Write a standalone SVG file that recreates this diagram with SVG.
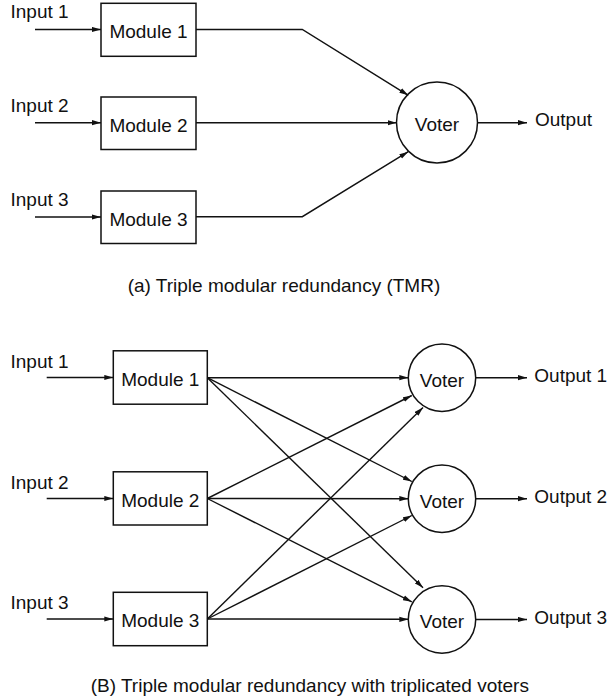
<svg xmlns="http://www.w3.org/2000/svg" width="610" height="699" viewBox="0 0 610 699">
<style>
text{font-family:"Liberation Sans",Arial,Helvetica,sans-serif;font-size:19px;fill:#111}
.box{fill:#fff;stroke:#111;stroke-width:1.5}
.c{text-anchor:middle}
.ln{fill:none;stroke:#111;stroke-width:1.4}
</style>
<defs>
<marker id="ah" markerUnits="userSpaceOnUse" markerWidth="9" markerHeight="6" viewBox="0 0 9 6" refX="9" refY="3" orient="auto">
<path d="M0,0.4 L9,3 L0,5.6 z" fill="#111"/>
</marker>
</defs>
<rect width="610" height="699" fill="#fff"/>

<!-- Part (a) -->
<g id="a-input1"><text x="10.5" y="18.3">Input 1</text></g>
<g id="a-input2"><text x="10.5" y="111.7">Input 2</text></g>
<g id="a-input3"><text x="10.5" y="205.7">Input 3</text></g>
<g id="a-module1"><rect class="box" x="101" y="3.3" width="95" height="53"/><text class="c" x="148.5" y="37.7">Module 1</text></g>
<g id="a-module2"><rect class="box" x="101" y="97" width="95" height="52.5"/><text class="c" x="148.5" y="131.5">Module 2</text></g>
<g id="a-module3"><rect class="box" x="101" y="191" width="95" height="52.5"/><text class="c" x="148.5" y="225.5">Module 3</text></g>
<g id="a-voter"><circle class="box" cx="437" cy="122.5" r="40.5"/><text class="c" x="437" cy="0" y="130.5">Voter</text></g>
<g id="a-output"><text x="535" y="126">Output</text></g>
<g id="a-caption"><text x="127.7" y="291.7">(a)  Triple modular redundancy (TMR)</text></g>

<g id="a-connectors">
<line class="ln" x1="35" y1="29.5" x2="101" y2="29.5" marker-end="url(#ah)"/>
<line class="ln" x1="35" y1="122.7" x2="101" y2="122.7" marker-end="url(#ah)"/>
<line class="ln" x1="35" y1="217" x2="101" y2="217" marker-end="url(#ah)"/>
<polyline class="ln" points="196,29.5 302.3,29.5 408.3,95.3" marker-end="url(#ah)"/>
<line class="ln" x1="196" y1="122.7" x2="396.5" y2="122.7" marker-end="url(#ah)"/>
<polyline class="ln" points="196,216.7 302.3,216.7 408.3,151.7" marker-end="url(#ah)"/>
<line class="ln" x1="477.5" y1="122.7" x2="527" y2="122.7" marker-end="url(#ah)"/>
</g>

<!-- Part (B) -->
<g id="b-input1"><text x="10.5" y="368.3">Input 1</text></g>
<g id="b-input2"><text x="10.5" y="488.5">Input 2</text></g>
<g id="b-input3"><text x="10.5" y="608.7">Input 3</text></g>
<g id="b-module1"><rect class="box" x="113.3" y="350.8" width="94" height="53.4"/><text class="c" x="160.3" y="385.7">Module 1</text></g>
<g id="b-module2"><rect class="box" x="113.3" y="471.8" width="94" height="53.2"/><text class="c" x="160.3" y="506.5">Module 2</text></g>
<g id="b-module3"><rect class="box" x="113.3" y="592.3" width="94" height="53.4"/><text class="c" x="160.3" y="627">Module 3</text></g>
<g id="b-voter1"><circle class="box" cx="442" cy="377.7" r="33.7"/><text class="c" x="442" y="386.5">Voter</text></g>
<g id="b-voter2"><circle class="box" cx="442" cy="498.7" r="33.7"/><text class="c" x="442" y="507.5">Voter</text></g>
<g id="b-voter3"><circle class="box" cx="442" cy="619.5" r="33.7"/><text class="c" x="442" y="628.3">Voter</text></g>
<g id="b-output1"><text x="534.3" y="382">Output 1</text></g>
<g id="b-output2"><text x="534.3" y="503.2">Output 2</text></g>
<g id="b-output3"><text x="534.3" y="623.8">Output 3</text></g>
<g id="b-caption"><text x="90.7" y="692.3">(B)  Triple modular redundancy with triplicated voters</text></g>

<g id="b-connectors">
<line class="ln" x1="46.7" y1="377.5" x2="113.3" y2="377.5" marker-end="url(#ah)"/>
<line class="ln" x1="46.7" y1="498.5" x2="113.3" y2="498.5" marker-end="url(#ah)"/>
<line class="ln" x1="46.7" y1="619" x2="113.3" y2="619" marker-end="url(#ah)"/>

<line class="ln" x1="207.3" y1="377.7" x2="408.3" y2="377.7" marker-end="url(#ah)"/>
<line class="ln" x1="207.3" y1="377.7" x2="411.8" y2="481.5" marker-end="url(#ah)"/>
<line class="ln" x1="207.3" y1="377.7" x2="423" y2="587.8" marker-end="url(#ah)"/>

<line class="ln" x1="207.3" y1="498.5" x2="411.8" y2="395.5" marker-end="url(#ah)"/>
<line class="ln" x1="207.3" y1="498.5" x2="408.3" y2="498.7" marker-end="url(#ah)"/>
<line class="ln" x1="207.3" y1="498.5" x2="411.8" y2="601.8" marker-end="url(#ah)"/>

<line class="ln" x1="207.3" y1="619" x2="423" y2="407.5" marker-end="url(#ah)"/>
<line class="ln" x1="207.3" y1="619" x2="411.8" y2="515.5" marker-end="url(#ah)"/>
<line class="ln" x1="207.3" y1="619" x2="408.3" y2="619.3" marker-end="url(#ah)"/>

<line class="ln" x1="475.7" y1="377.7" x2="527" y2="377.7" marker-end="url(#ah)"/>
<line class="ln" x1="475.7" y1="498.7" x2="527" y2="498.7" marker-end="url(#ah)"/>
<line class="ln" x1="475.7" y1="619.5" x2="527" y2="619.5" marker-end="url(#ah)"/>
</g>
</svg>
